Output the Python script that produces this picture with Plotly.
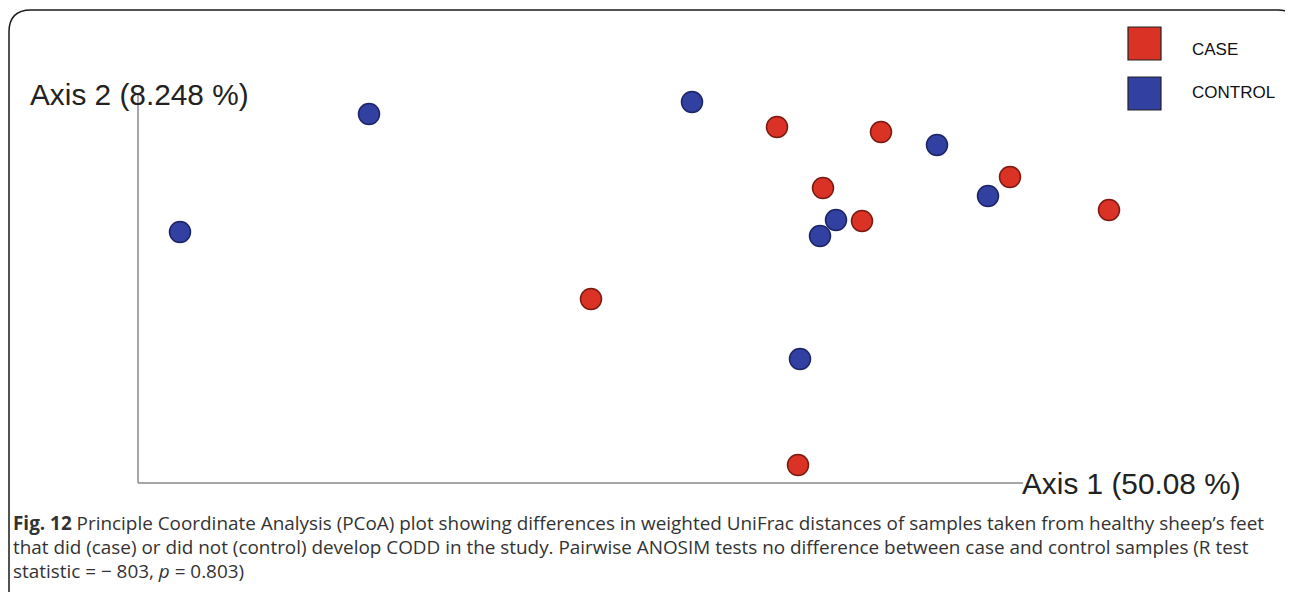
import plotly.graph_objects as go

# page is shown with an 8px body margin, so the figure is made 8px smaller
OFF = 8
W, H = 1293 - OFF, 592 - OFF

# ---- data (PCoA coordinates) ----
groups = ["CASE", "CONTROL"]
case_axis1 = [0.137, 0.241, 0.370, 0.183, 0.222, 0.469, -0.049, 0.158]
case_axis2 = [0.163, 0.158, 0.113, 0.102, 0.069, 0.080, -0.009, -0.175]
control_axis1 = [-0.271, -0.460, 0.052, 0.297, 0.348, 0.196, 0.180, 0.160]
control_axis2 = [0.176, 0.058, 0.188, 0.145, 0.094, 0.070, 0.054, -0.069]
axis1_label = "Axis 1 (50.08 %)"
axis2_label = "Axis 2 (8.248 %)"
axis_min = [-0.502, -0.193]
axis_max = [0.383, 0.195]

fill = {"CASE": "#db3226", "CONTROL": "#3240a2"}
edge = {"CASE": "#7a1a12", "CONTROL": "#1c2466"}

# data ranges covering the whole plotting area
x_range = [-0.632, 0.653]
y_range = [-0.302, 0.282]

fig = go.Figure()
for g, xs, ys in [("CASE", case_axis1, case_axis2), ("CONTROL", control_axis1, control_axis2)]:
    fig.add_trace(go.Scatter(
        x=xs, y=ys, mode="markers", name=g, showlegend=False,
        marker=dict(size=21, color=fill[g], line=dict(color=edge[g], width=1.5)),
    ))

shapes = []
# axis lines
shapes.append(dict(type="line", xref="x", yref="y", x0=axis_min[0], y0=axis_min[1],
                   x1=axis_min[0], y1=axis_max[1], line=dict(color="#8a8a8a", width=1.5), layer="below"))
shapes.append(dict(type="line", xref="x", yref="y", x0=axis_min[0], y0=axis_min[1],
                   x1=axis_max[0], y1=axis_min[1], line=dict(color="#8a8a8a", width=1.5), layer="below"))


def px(x):
    return (x - OFF) / W


def py(y):
    return 1 - (y - OFF) / H


# rounded frame
L, T, R, B, r = 9, 10, 1300, 600, 22
path = (f"M {px(L)},{py(B)} L {px(L)},{py(T + r)} Q {px(L)},{py(T)} {px(L + r)},{py(T)} "
        f"L {px(R - r)},{py(T)} Q {px(R)},{py(T)} {px(R)},{py(T + r)} L {px(R)},{py(B)}")
shapes.append(dict(type="path", xref="paper", yref="paper", path=path,
                   line=dict(color="#1a1a1a", width=1.5)))

# legend squares + labels
annotations = []
legend_label_y = [49, 93]
for i, g in enumerate(groups):
    top = 27 + i * 50
    shapes.append(dict(type="rect", xref="paper", yref="paper",
                       x0=px(1128), x1=px(1161), y0=py(top + 33), y1=py(top),
                       fillcolor=fill[g], line=dict(color="#222222", width=1.2)))
    annotations.append(dict(xref="paper", yref="paper", x=px(1190), y=py(legend_label_y[i]),
                            text=g, showarrow=False, xanchor="left", yanchor="middle",
                            font=dict(family="Liberation Sans, Arial, sans-serif", size=17, color="#111111")))

# axis titles
annotations.append(dict(xref="paper", yref="paper", x=px(28), y=py(95), text=axis2_label,
                        showarrow=False, xanchor="left", yanchor="middle",
                        font=dict(family="Liberation Sans, Arial, sans-serif", size=29.8, color="#222222")))
annotations.append(dict(xref="paper", yref="paper", x=px(1020), y=py(483), text=axis1_label,
                        showarrow=False, xanchor="left", yanchor="middle",
                        font=dict(family="Liberation Sans, Arial, sans-serif", size=29.8, color="#222222")))

# caption
caption = [
    "<b>Fig. 12</b> Principle Coordinate Analysis (PCoA) plot showing differences in weighted UniFrac distances of samples taken from healthy sheep’s feet",
    "that did (case) or did not (control) develop CODD in the study. Pairwise ANOSIM tests no difference between case and control samples (R test",
    "statistic = − 803, <i>p</i> = 0.803)",
]
cap_y = [523, 547, 571]
for t, yy in zip(caption, cap_y):
    annotations.append(dict(xref="paper", yref="paper", x=px(11), y=py(yy), text=t,
                            showarrow=False, xanchor="left", yanchor="middle",
                            font=dict(family="Open Sans, sans-serif", size=18.9, color="#333333")))

fig.update_layout(
    width=W, height=H,
    margin=dict(l=0, r=0, t=0, b=0),
    paper_bgcolor="white", plot_bgcolor="white",
    xaxis=dict(range=x_range, visible=False, fixedrange=True),
    yaxis=dict(range=y_range, visible=False, fixedrange=True),
    shapes=shapes, annotations=annotations,
)
fig.write_html("out.html")
